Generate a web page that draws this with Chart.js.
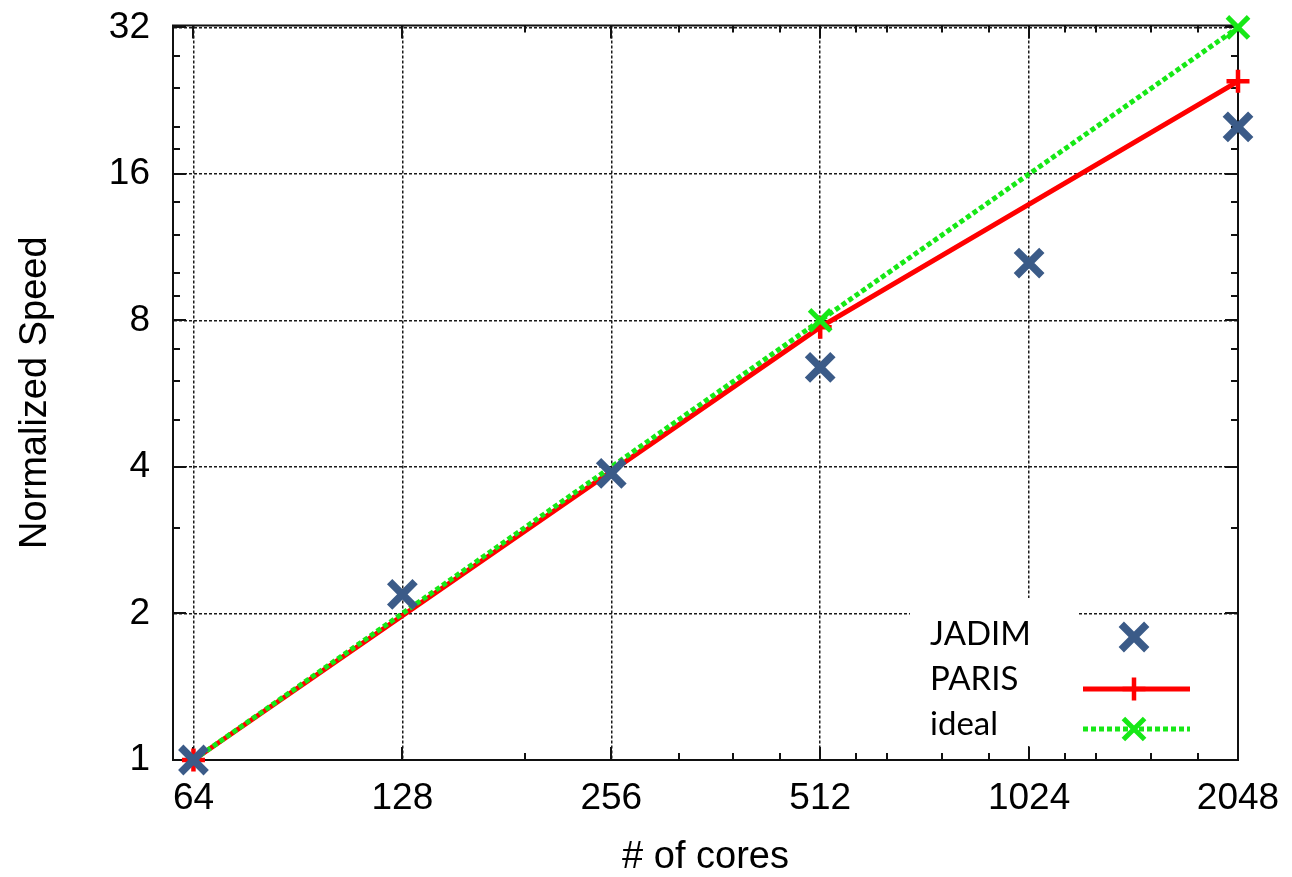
<!DOCTYPE html>
<html>
<head>
<meta charset="utf-8">
<script src="https://cdn.jsdelivr.net/npm/chart.js@4/dist/chart.umd.min.js"></script>
<style>
html,body{margin:0;padding:0;background:#fff;}
#wrap{width:1292px;height:877px;position:relative;}
</style>
</head>
<body>
<div id="wrap"><canvas id="c" width="1292" height="877"></canvas></div>
<script>
// ---- data ----
const seriesLabels = ['JADIM', 'PARIS', 'ideal'];
const jadimCores = [64, 128, 256, 512, 1024, 2048];
const jadimSpeed = [1.0, 2.19, 3.88, 6.41, 10.5, 20.0];
const parisCores = [64, 512, 2048];
const parisSpeed = [1.0, 7.75, 24.8];
const idealCores = [64, 512, 2048];
const idealSpeed = [1, 8, 32];
const xTicks = [64, 128, 256, 512, 1024, 2048];
const xMinorTicks = [192, 320, 384, 448, 576, 640, 768, 896, 1152, 1280, 1536, 1792];
const yTicks = [1, 2, 4, 8, 16, 32];
const yMinorTicks = [3, 5, 6, 7, 9, 10, 12, 14, 18, 20, 24, 28];
const xTitle = '# of cores';
const yTitle = 'Normalized Speed';

const pts = (xs, ys) => xs.map((v, i) => ({x: v, y: ys[i]}));

function drawMark(ctx, style, x, y, r, w, color) {
  ctx.save();
  ctx.strokeStyle = color;
  ctx.lineWidth = w;
  ctx.setLineDash([]);
  ctx.lineCap = 'butt';
  ctx.beginPath();
  if (style === 'crossRot') {
    const d = r * Math.SQRT1_2;
    ctx.moveTo(x - d, y - d); ctx.lineTo(x + d, y + d);
    ctx.moveTo(x + d, y - d); ctx.lineTo(x - d, y + d);
  } else {
    ctx.moveTo(x - r, y); ctx.lineTo(x + r, y);
    ctx.moveTo(x, y - r); ctx.lineTo(x, y + r);
  }
  ctx.stroke();
  ctx.restore();
}

const frameTicks = {
  id: 'frameTicks',
  beforeDatasetsDraw(chart) {
    const {ctx, chartArea: a, scales: {x, y}} = chart;
    ctx.save();
    ctx.strokeStyle = '#111';
    ctx.lineWidth = 2;
    ctx.setLineDash([]);
    ctx.strokeRect(a.left, a.top, a.right - a.left, a.bottom - a.top);
    ctx.beginPath();
    const xt = (vals, len) => vals.forEach(v => {
      const p = Math.round(x.getPixelForValue(v));
      ctx.moveTo(p, a.bottom); ctx.lineTo(p, a.bottom - len);
      ctx.moveTo(p, a.top); ctx.lineTo(p, a.top + len);
    });
    const yt = (vals, len) => vals.forEach(v => {
      const p = Math.round(y.getPixelForValue(v));
      ctx.moveTo(a.left, p); ctx.lineTo(a.left + len, p);
      ctx.moveTo(a.right, p); ctx.lineTo(a.right - len, p);
    });
    xt(xTicks, 13); xt(xMinorTicks, 7);
    yt(yTicks, 13); yt(yMinorTicks, 7);
    ctx.stroke();
    ctx.restore();
  }
};

const pastedLegend = {
  id: 'pastedLegend',
  afterDatasetsDraw(chart) {
    const {ctx, chartArea: a} = chart;
    ctx.save();
    ctx.fillStyle = '#fff';
    ctx.fillRect(a.right - 328, a.bottom - 162, 168, 148);
    const textY = [a.bottom - 115, a.bottom - 70, a.bottom - 25];
    const sampleY = [a.bottom - 123, a.bottom - 71, a.bottom - 31];
    ctx.font = '33px Lato';
    ctx.fillStyle = '#000';
    ctx.textBaseline = 'alphabetic';
    ctx.textAlign = 'left';
    chart.data.datasets.forEach((ds, i) => {
      ctx.fillText(ds.label, a.right - 308, textY[i]);
      const sy = sampleY[i];
      if (ds.showLine) {
        ctx.save();
        ctx.strokeStyle = ds.borderColor;
        ctx.lineWidth = ds.borderWidth;
        ctx.setLineDash(ds.borderDash || []);
        ctx.beginPath();
        ctx.moveTo(a.right - 155, sy);
        ctx.lineTo(a.right - 48, sy);
        ctx.stroke();
        ctx.restore();
      }
      drawMark(ctx, ds.pointStyle, a.right - 104, sy, ds.pointRadius, ds.pointBorderWidth, ds.pointBorderColor);
    });
    ctx.restore();
  }
};

const tickFont = {family: 'Liberation Sans', size: 37, lineHeight: 1};
const titleFont = {family: 'Liberation Sans', size: 38, lineHeight: 1.2};

new Chart(document.getElementById('c'), {
  type: 'scatter',
  data: {
    datasets: [
      {
        label: seriesLabels[0],
        data: pts(jadimCores, jadimSpeed),
        showLine: false,
        pointStyle: 'crossRot',
        pointRadius: 18,
        pointHoverRadius: 18,
        pointBorderWidth: 7.5,
        pointBorderColor: '#3B5B88',
        borderColor: '#3B5B88',
        backgroundColor: '#3B5B88',
        order: 0,
        clip: false
      },
      {
        label: seriesLabels[1],
        data: pts(parisCores, parisSpeed),
        showLine: true,
        borderColor: '#FF0000',
        borderWidth: 5,
        pointStyle: 'cross',
        pointRadius: 11.5,
        pointHoverRadius: 11.5,
        pointBorderWidth: 4.5,
        pointBorderColor: '#FF0000',
        backgroundColor: '#FF0000',
        order: 2,
        clip: false
      },
      {
        label: seriesLabels[2],
        data: pts(idealCores, idealSpeed),
        showLine: true,
        borderColor: '#16E816',
        borderWidth: 5,
        borderDash: [5, 3],
        pointStyle: 'crossRot',
        pointRadius: 15,
        pointHoverRadius: 15,
        pointBorderWidth: 5,
        pointBorderColor: '#16E816',
        backgroundColor: '#16E816',
        order: 1,
        clip: false
      }
    ]
  },
  options: {
    responsive: false,
    animation: false,
    devicePixelRatio: 1,
    layout: {padding: {top: 21, right: 54, left: 0, bottom: 0}},
    plugins: {legend: {display: false}, tooltip: {enabled: false}},
    scales: {
      x: {
        type: 'logarithmic',
        min: 59.8,
        max: 2048,
        afterBuildTicks: s => { s.ticks = xTicks.map(v => ({value: v})); },
        afterFit: s => { s.height = 117; s.paddingLeft = 0; s.paddingRight = 0; },
        ticks: {
          font: tickFont, color: '#000', padding: 20,
          autoSkip: false, maxRotation: 0,
          callback: v => String(v)
        },
        grid: {color: '#1a1a1a', lineWidth: 1.5, drawTicks: false},
        border: {display: true, color: '#111', width: 2, dash: [3, 2]},
        title: {display: true, text: xTitle, font: {family: 'Liberation Sans', size: 38, lineHeight: 1}, color: '#000', padding: {top: 0, bottom: 0}}
      },
      y: {
        type: 'logarithmic',
        min: 1,
        max: 32.3,
        afterBuildTicks: s => { s.ticks = yTicks.map(v => ({value: v})); },
        afterFit: s => { s.width = 173; s.paddingTop = 0; s.paddingBottom = 0; },
        ticks: {
          font: tickFont, color: '#000', padding: 23,
          autoSkip: false,
          callback: v => String(v)
        },
        grid: {color: '#1a1a1a', lineWidth: 1.5, drawTicks: false},
        border: {display: true, color: '#111', width: 2, dash: [3, 2]},
        title: {display: true, text: yTitle, font: titleFont, color: '#000', padding: {top: 13, bottom: 0}}
      }
    }
  },
  plugins: [frameTicks, pastedLegend]
});
</script>
</body>
</html>
